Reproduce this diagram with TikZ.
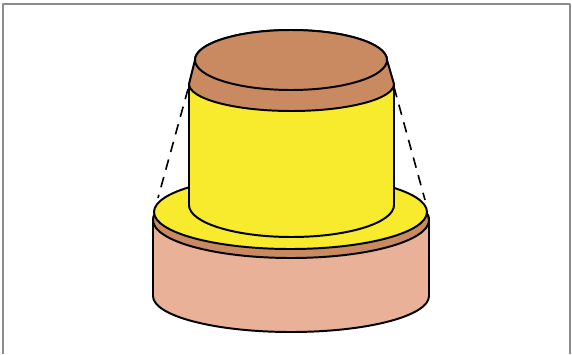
\documentclass[tikz,border=0pt]{standalone}
\definecolor{capbrown}{HTML}{C98A62}
\definecolor{basetan}{HTML}{E8B198}
\definecolor{bushyellow}{HTML}{F8EA2C}
\definecolor{framegray}{HTML}{8C8C8C}
\begin{document}
\begin{tikzpicture}[x=0.5mm, y=-0.5mm, line join=round]
\tikzset{outline/.style={draw=black, line width=2.8pt},
         taper/.style={draw=black, line width=2.3pt, dash pattern=on 15pt off 11pt}}
\useasboundingbox (0,0) rectangle (572,354);
% frame
\draw[framegray, line width=2.6pt] (3,354) -- (3,4) -- (570,4) -- (570,354);

% base cylinder
\filldraw[fill=basetan, outline] (153,220) -- (153,296)
  arc[start angle=180, end angle=0, x radius=138, y radius=36] -- (429,220)
  arc[start angle=0, end angle=-180, x radius=138, y radius=38] -- cycle;
\filldraw[fill=capbrown, outline] (291,220) ellipse [x radius=138, y radius=38];
% yellow flange on the base
\filldraw[fill=bushyellow, outline] (290.5,212) ellipse [x radius=136.5, y radius=37];

% yellow sleeve
\fill[bushyellow] (189,84) -- (189,205)
  arc[start angle=180, end angle=0, x radius=102.5, y radius=32] -- (394,84) -- cycle;
\draw[outline] (189,84) -- (189,205)
  arc[start angle=180, end angle=0, x radius=102.5, y radius=32] -- (394,84);

% cap
\filldraw[fill=capbrown, outline] (195,60) -- (189,84)
  arc[start angle=180, end angle=0, x radius=102.5, y radius=27] -- (387,60)
  arc[start angle=0, end angle=-180, x radius=96, y radius=30] -- cycle;
\filldraw[fill=capbrown, outline] (291,60) ellipse [x radius=96, y radius=30];

% taper lines
\coordinate (capL) at (188,89);
\coordinate (capR) at (394,87);
\coordinate (rimL) at (158,198);
\coordinate (rimR) at (425,200);
\draw[taper] (capL) -- (rimL);
\draw[taper] (capR) -- (rimR);
\end{tikzpicture}
\end{document}
